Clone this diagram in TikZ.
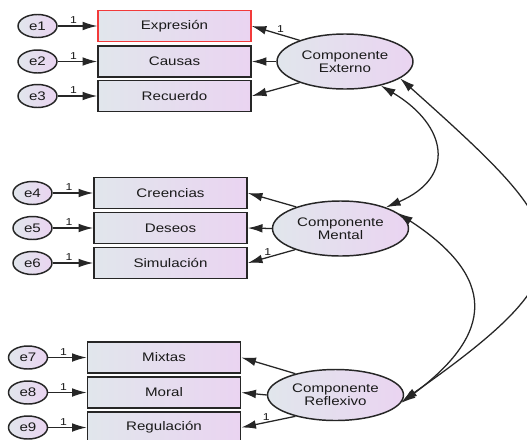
\documentclass[tikz,border=0pt]{standalone}
\usepackage{fontspec}
\setmainfont{Liberation Sans}[FakeStretch=1.22]
\usetikzlibrary{arrows.meta,shapes.geometric}
\definecolor{lc}{HTML}{E1E6EC}
\definecolor{rc}{HTML}{EAD4F1}
\definecolor{bd}{HTML}{262626}
\definecolor{tx}{HTML}{1A1A1A}
\definecolor{redb}{HTML}{F23A3A}
\begin{document}
\begin{tikzpicture}[x=0.75pt,y=-0.75pt,
  shadefill/.style={left color=lc, right color=rc},
  obs/.style={rectangle, draw=bd, line width=1.2pt, shadefill, minimum width=114.75pt, minimum height=23.25pt, inner sep=0pt, text=tx, font=\fontsize{9.3}{10}\selectfont},
  err/.style={ellipse, draw=bd, line width=1.1pt, shadefill, minimum width=29.25pt, minimum height=17.25pt, inner sep=0pt, text=tx, font=\fontsize{9.3}{10}\selectfont},
  lat/.style={ellipse, draw=bd, line width=1.1pt, shadefill, minimum width=102pt, minimum height=41.25pt, inner sep=0pt, align=center, text=tx, font=\fontsize{9.3}{9.8}\selectfont},
  conn/.style={-{Latex[length=11pt,width=6.5pt]}, line width=0.95pt, draw=bd},
  cov/.style={{Latex[length=11pt,width=6.5pt]}-{Latex[length=11pt,width=6.5pt]}, line width=0.95pt, draw=bd},
  one/.style={font=\fontsize{7.5}{8}\selectfont, text=tx, inner sep=1.2pt}
]
\clip (0,0) rectangle (527,439);
\fill[white] (0,0) rectangle (527,439);

% top group
\node[obs, draw=redb, line width=1pt] (expr) at (174.5,26) {Expresión};
\node[obs] (caus) at (174.5,61.5) {Causas};
\node[obs] (recu) at (174.5,96) {Recuerdo};
\node[err] (e1) at (37.5,26) {e1};
\node[err] (e2) at (37.5,61.5) {e2};
\node[err] (e3) at (37.5,96) {e3};
\node[lat] (ext) at (345,61.5) {Componente\\Externo};

% middle group
\node[obs] (cree) at (170.5,193) {Creencias};
\node[obs] (dese) at (170.5,228) {Deseos};
\node[obs] (simu) at (170.5,263) {Simulación};
\node[err] (e4) at (32.5,193) {e4};
\node[err] (e5) at (32.5,228) {e5};
\node[err] (e6) at (32.5,263) {e6};
\node[lat] (men) at (340.5,228.5) {Componente\\Mental};

% bottom group
\node[obs] (mixt) at (164,357.5) {Mixtas};
\node[obs] (mora) at (164,392.5) {Moral};
\node[obs] (regu) at (164,427.5) {Regulación};
\node[err] (e7) at (28,357.5) {e7};
\node[err] (e8) at (28,392.5) {e8};
\node[err] (e9) at (28,427.5) {e9};
\node[lat, minimum height=38.25pt] (ref) at (335.5,395) {Componente\\Reflexivo};

% error arrows
\foreach \e/\b in {e1/expr,e2/caus,e3/recu,e4/cree,e5/dese,e6/simu,e7/mixt,e8/mora,e9/regu}
  \draw[conn] (\e.east) -- node[one, pos=0.4, above] {1} (\b.west);

% loadings
\draw[conn] (ext.155) -- node[one, pos=0.4, above] {1} (expr.east);
\draw[conn] (ext.west) -- (caus.east);
\draw[conn] (ext.205) -- (recu.east);

\draw[conn] (men.154) -- (cree.east);
\draw[conn] (men.west) -- (dese.east);
\draw[conn] (men.205) -- node[one, pos=0.58, above] {1} (simu.east);

\draw[conn] (ref.152) -- (mixt.east);
\draw[conn] (ref.west) -- (mora.east);
\draw[conn] (ref.208) -- node[one, pos=0.54, above] {1} (regu.east);

% covariances
\draw[cov] (ext.-34) .. controls (447,125) and (457,177) .. (men.25);
\draw[cov] (ext.-17) .. controls (575,235) and (600,262) .. (ref.-5);
\draw[cov] (men.15) .. controls (496,277) and (496,333) .. (ref.-7);
\end{tikzpicture}
\end{document}
